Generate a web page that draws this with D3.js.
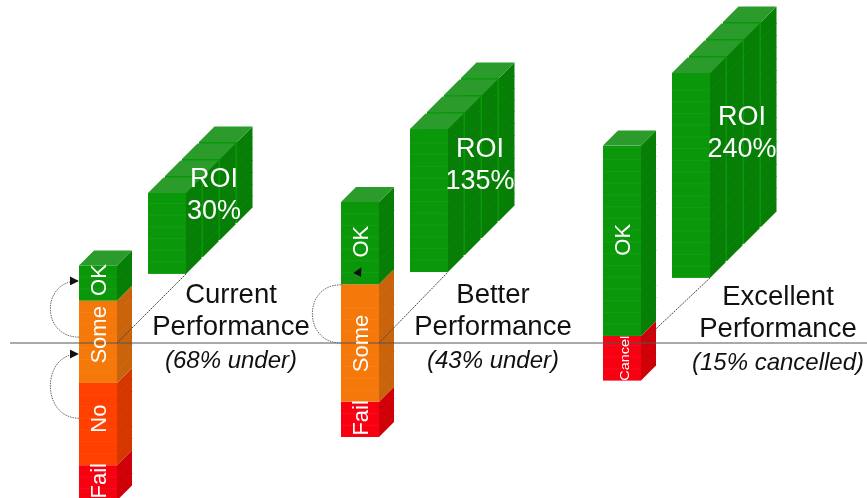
<!DOCTYPE html>
<html>
<head>
<meta charset="utf-8">
<script src="https://cdn.jsdelivr.net/npm/d3@7"></script>
<style>
  html, body { margin: 0; background: #fff; }
  svg { display: block; filter: blur(0.4px); }
  text { font-family: "Liberation Sans", Arial, sans-serif; }
</style>
</head>
<body>
<svg id="chart"></svg>
<script>
// data
const groups = ["Current", "Better", "Excellent"];
const titleLine1 = ["Current", "Better", "Excellent"];
const titleLine2 = ["Performance", "Performance", "Performance"];
const notes = ["(68% under)", "(43% under)", "(15% cancelled)"];
const under = [67, 40, 16];   // percent of the stack below the line
const stackNames = [
  ["Fail", "No", "Some", "OK"],
  ["Fail", "Some", "OK"],
  ["Cancel", "OK"]
];
const stackValues = [
  [15, 35, 35, 15],
  [15, 50, 35],
  [19, 81]
];
const roiValues = [30, 135, 240];
const roiFloor = [29.4, 30.2, 27.7];  // foot of the roi blocks, same units as the stack
const roiBlocks = [0, 1, 2, 3];
// arrows, from and to in stack units
const arrowFrom = [[2.5, 26.4], [-32, -4.7], [0, 24.7]];

const width = 867, height = 498;
const axisY = 343, pxPerUnit = 2.35;
const barW = 38, depth = 15, blockDepth = 15.5, pitch = 17;

const colors = {
  OK:     {front: "#0a980a", side: "#077f07", top: "#2b9b2b", line: "#169d16", sideLine: "#0c850c"},
  Some:   {front: "#f5780a", side: "#c9640c", top: "#f58a2a", line: "#f77f12", sideLine: "#cf6a12"},
  No:     {front: "#ff4000", side: "#d63600", top: "#ff5a20", line: "#ff4a0a", sideLine: "#dc3c06"},
  Fail:   {front: "#f70012", side: "#d00008", top: "#ff3030", line: "#fa0c1c", sideLine: "#d6080e"},
  Cancel: {front: "#f70012", side: "#d00008", top: "#ff3030", line: "#fa0c1c", sideLine: "#d6080e"}
};

const svg = d3.select("#chart").attr("width", width).attr("height", height);

const x = d3.scalePoint().domain(groups).range([79, 603]);
const y = d3.scaleLinear().domain([0, 100]).range([axisY, axisY - 100 * pxPerUnit]);
const roiH = d3.scaleLinear().domain([30, 240]).range([81, 205]);

const poly = pts => pts.map(p => p.join(",")).join(" ");

// one box: front, side, and optional top. px is left edge, y0 top, y1 bottom
function box(g, px, y0, y1, c, d, withTop) {
  g.append("rect").attr("x", px).attr("y", y0).attr("width", barW).attr("height", y1 - y0).attr("fill", c.front);
  g.append("polygon")
    .attr("points", poly([[px + barW, y0], [px + barW + d, y0 - d], [px + barW + d, y1 - d], [px + barW, y1]]))
    .attr("fill", c.side);
  if (withTop) {
    g.append("polygon")
      .attr("points", poly([[px, y0], [px + d, y0 - d], [px + barW + d, y0 - d], [px + barW, y0]]))
      .attr("fill", c.top);
  }
}

function strata(g, px, ys, c, d) {
  g.selectAll("line.f").data(ys).enter().append("line").attr("class", "f")
    .attr("x1", px).attr("x2", px + barW)
    .attr("y1", v => v).attr("y2", v => v)
    .attr("stroke", c.line).attr("stroke-width", 1);
  g.selectAll("line.s").data(ys).enter().append("line").attr("class", "s")
    .attr("x1", px + barW).attr("x2", px + barW + d)
    .attr("y1", v => v).attr("y2", v => v - d)
    .attr("stroke", c.sideLine).attr("stroke-width", 1);
}

// stacks
groups.forEach((name, i) => {
  const px = x(name);
  let base = -under[i];
  stackNames[i].forEach((seg, j) => {
    const v = stackValues[i][j];
    const c = colors[seg];
    const g = svg.append("g");
    const isTop = j === stackNames[i].length - 1;
    box(g, px, y(base + v), y(base), c, depth, isTop);
    strata(g, px, d3.range(5, v, 5).map(t => y(base + t)), c, depth);
    base += v;
  });
});

// roi blocks, back one first
groups.forEach((name, i) => {
  const px = x(name) + 69;
  const foot = y(roiFloor[i]);
  const h = roiH(roiValues[i]);
  const c = colors.OK;
  roiBlocks.slice().reverse().forEach(b => {
    const off = b * pitch;
    const g = svg.append("g");
    box(g, px + off, foot - h - off, foot - off, c, blockDepth, true);
    strata(g, px + off, d3.range(1, Math.round(h / 11.75)).map(t => foot - off - t * 11.75), c, blockDepth);
  });
});

// the zero line and the dotted links
svg.append("line").attr("x1", 10).attr("x2", width).attr("y1", axisY).attr("y2", axisY)
  .attr("stroke", "#555").attr("stroke-width", 1);

groups.forEach((name, i) => {
  svg.append("line")
    .attr("x1", x(name) + barW).attr("y1", axisY)
    .attr("x2", x(name) + 69 + barW).attr("y2", y(roiFloor[i]))
    .attr("stroke", "#444").attr("stroke-width", 1).attr("stroke-dasharray", "2,1");
});

// arrows
svg.append("defs").append("marker")
  .attr("id", "head").attr("markerUnits", "userSpaceOnUse")
  .attr("viewBox", "0 0 10 10").attr("refX", 9).attr("refY", 5)
  .attr("markerWidth", 9).attr("markerHeight", 9).attr("orient", "auto")
  .append("path").attr("d", "M0,0L10,5L0,10Z").attr("fill", "#111");

const arrowGroups = [groups[0], groups[0], groups[1]];
arrowFrom.forEach((a, i) => {
  const px = x(arrowGroups[i]);
  const p = d3.path();
  p.moveTo(px, y(a[0]));
  p.bezierCurveTo(px - 38, y(a[0]), px - 38, y(a[1]), px - 1, y(a[1]));
  if (i === 2) {
    // this one runs on into the OK segment
    p.lineTo(px + 14, y(a[1]) - 6);
    p.lineTo(px + 20, y(a[1]) - 17);
  }
  svg.append("path").attr("d", p.toString()).attr("fill", "none")
    .attr("stroke", "#666").attr("stroke-width", 1).attr("stroke-dasharray", "1.5,1")
    .attr("marker-end", "url(#head)");
});

// labels on the stacks, nudged where the original sits off centre
const labelNudge = [[-2, -5.5, -7, -3], [-1.5, 0.5, -1.5], [0, -1]];
groups.forEach((name, i) => {
  let base = -under[i];
  stackNames[i].forEach((seg, j) => {
    const v = stackValues[i][j];
    const cy = y(base + v / 2) + labelNudge[i][j];
    const small = seg === "Cancel";
    const t = svg.append("text")
      .attr("transform", `translate(${x(name) + (small ? 25.5 : 27)},${cy}) rotate(-90)`)
      .attr("text-anchor", "middle").attr("fill", "#fff")
      .attr("font-size", small ? 12 : 22)
      .text(seg);
    if (small) t.attr("textLength", 45).attr("lengthAdjust", "spacingAndGlyphs");
    base += v;
  });
});

// roi labels
const roiLabelX = [214, 480, 742];
const roiLabelY = [187, 157, 125];
groups.forEach((name, i) => {
  ["ROI", roiValues[i] + "%"].forEach((s, k) => {
    svg.append("text").attr("x", roiLabelX[i]).attr("y", roiLabelY[i] + k * 32)
      .attr("text-anchor", "middle").attr("fill", "#fff").attr("font-size", 27).text(s);
  });
});

// titles
const titleX = [231, 493, 778];
const titleY = [303, 303, 305];
groups.forEach((name, i) => {
  const t = svg.append("g").attr("text-anchor", "middle").attr("fill", "#111");
  t.append("text").attr("x", titleX[i]).attr("y", titleY[i]).attr("font-size", 27.5).text(titleLine1[i]);
  t.append("text").attr("x", titleX[i]).attr("y", titleY[i] + 32).attr("font-size", 27.5).text(titleLine2[i]);
  t.append("text").attr("x", titleX[i]).attr("y", titleY[i] + 65).attr("font-size", 24)
    .attr("font-style", "italic").text(notes[i]);
});
</script>
</body>
</html>
